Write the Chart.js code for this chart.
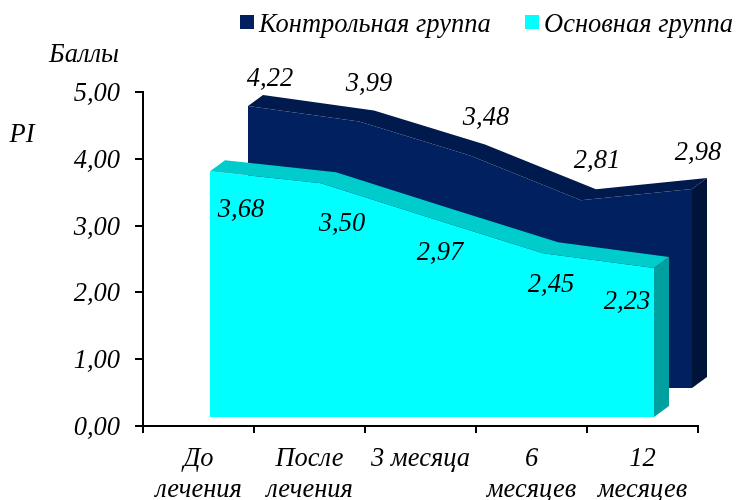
<!DOCTYPE html>
<html lang="ru">
<head>
<meta charset="utf-8">
<style>
  html, body { margin: 0; background: #fff; }
  canvas { display: block; }
</style>
</head>
<body>
<canvas id="chart" width="737" height="500"></canvas>
<script src="https://cdn.jsdelivr.net/npm/chart.js@4"></script>
<script>
const categories = [["До", "лечения"], ["После", "лечения"], "3 месяца", ["6", "месяцев"], ["12", "месяцев"]];
const controlValues = [4.22, 3.99, 3.48, 2.81, 2.98];
const mainValues = [3.68, 3.50, 2.97, 2.45, 2.23];
const controlName = "Контрольная группа";
const mainName = "Основная группа";

const FONT = "italic 26.5px 'Liberation Serif'";
const DEPTH_X = 15;
const DEPTH_Y = -11;

// hand placed value labels, offset from each point
const controlLabelDx = [22, 10, 16, 16, 6];
const controlLabelDy = [-27, -37, -38, -39, -36];
const mainLabelDx = [31, 21, 8, 8, -27];
const mainLabelDy = [39, 41, 34, 32, 34];

const comma = (v) => v.toFixed(2).replace(".", ",");
const toPoints = (values) => values.map((v, i) => ({ x: i, y: v }));

function polygon(ctx, pts, color) {
  ctx.fillStyle = color;
  ctx.beginPath();
  pts.forEach((p, i) => (i ? ctx.lineTo(p[0], p[1]) : ctx.moveTo(p[0], p[1])));
  ctx.closePath();
  ctx.fill();
}

// top and right faces of the fake 3D area, painted just before its dataset
const depthFaces = {
  id: "depthFaces",
  beforeDatasetDraw(chart, args) {
    const ds = chart.data.datasets[args.index];
    const ctx = chart.ctx;
    const base = chart.scales[ds.yAxisID].getPixelForValue(0);
    const pts = args.meta.data;
    const front = pts.map((p) => [p.x, p.y]);
    const back = pts.map((p) => [p.x + DEPTH_X, p.y + DEPTH_Y]).reverse();
    const last = pts[pts.length - 1];
    ctx.save();
    polygon(ctx, front.concat(back), ds.topColor);
    polygon(ctx, [
      [last.x, last.y], [last.x + DEPTH_X, last.y + DEPTH_Y],
      [last.x + DEPTH_X, base + DEPTH_Y], [last.x, base],
    ], ds.sideColor);
    ctx.restore();
  },
};

const texts = {
  id: "texts",
  afterDatasetsDraw(chart) {
    const ctx = chart.ctx;
    ctx.save();
    ctx.font = FONT;
    ctx.fillStyle = "#000";
    ctx.textAlign = "center";
    ctx.textBaseline = "middle";
    chart.data.datasets.forEach((ds, d) => {
      chart.getDatasetMeta(d).data.forEach((p, i) => {
        ctx.fillText(comma(ds.values[i]), p.x + ds.labelDx[i], p.y + ds.labelDy[i]);
      });
    });
    ctx.fillText("Баллы", 84, 55);
    ctx.fillText("PI", 22, 135);

    // legend
    ctx.textAlign = "left";
    ctx.fillStyle = "#002060";
    ctx.fillRect(240, 15, 14, 14);
    ctx.fillStyle = "#00ffff";
    ctx.fillRect(525, 15, 14, 14);
    ctx.fillStyle = "#000";
    ctx.fillText(controlName, 259, 25);
    ctx.fillText(mainName, 544, 25);
    ctx.restore();
  },
};

new Chart(document.getElementById("chart"), {
  type: "line",
  data: {
    labels: categories,
    datasets: [
      {
        label: controlName,
        values: controlValues,
        labelDx: controlLabelDx,
        labelDy: controlLabelDy,
        data: toPoints(controlValues),
        xAxisID: "xControl",
        yAxisID: "yControl",
        backgroundColor: "#002060",
        topColor: "#001a4d",
        sideColor: "#001339",
        order: 2,
      },
      {
        label: mainName,
        values: mainValues,
        labelDx: mainLabelDx,
        labelDy: mainLabelDy,
        data: toPoints(mainValues),
        xAxisID: "xMain",
        yAxisID: "yMain",
        backgroundColor: "#00ffff",
        topColor: "#00cccc",
        sideColor: "#00a0a0",
        order: 1,
      },
    ],
  },
  options: {
    responsive: false,
    animation: false,
    devicePixelRatio: 1,
    layout: { padding: { top: 92, right: 39, bottom: 0, left: 0 } },
    elements: {
      point: { radius: 0 },
      line: { borderWidth: 0, tension: 0, fill: "origin" },
    },
    plugins: { legend: { display: false }, tooltip: { enabled: false } },
    scales: {
      x: {
        type: "category",
        offset: true,
        afterFit(s) { s.height = 74; },
        border: { color: "#000", width: 2 },
        grid: { offset: true, drawOnChartArea: false, color: "#000", lineWidth: 2, tickLength: 7 },
        ticks: {
          color: "#000",
          font: { family: "Liberation Serif", size: 26.5, style: "italic", lineHeight: 1.17 },
          maxRotation: 0,
          autoSkip: false,
          padding: 11,
        },
      },
      y: {
        min: 0,
        max: 5,
        afterFit(s) { s.width = 143; },
        border: { color: "#000", width: 2 },
        grid: { drawOnChartArea: false, color: "#000", lineWidth: 2, tickLength: 8 },
        ticks: {
          stepSize: 1,
          color: "#000",
          font: { family: "Liberation Serif", size: 26.5, style: "italic" },
          padding: 15,
          labelOffset: 2,
          callback: (v) => comma(v),
        },
      },
      // hidden scales shift each series in front of the axis plane
      xControl: { type: "linear", display: false, min: -105 / 111, max: 5 - 105 / 111 },
      yControl: { type: "linear", display: false, position: "left", min: -38 / 66.8, max: 5 - 38 / 66.8 },
      xMain: { type: "linear", display: false, min: -67 / 111, max: 5 - 67 / 111 },
      yMain: { type: "linear", display: false, position: "left", min: -9 / 66.8, max: 5 - 9 / 66.8 },
    },
  },
  plugins: [depthFaces, texts],
});
</script>
</body>
</html>
